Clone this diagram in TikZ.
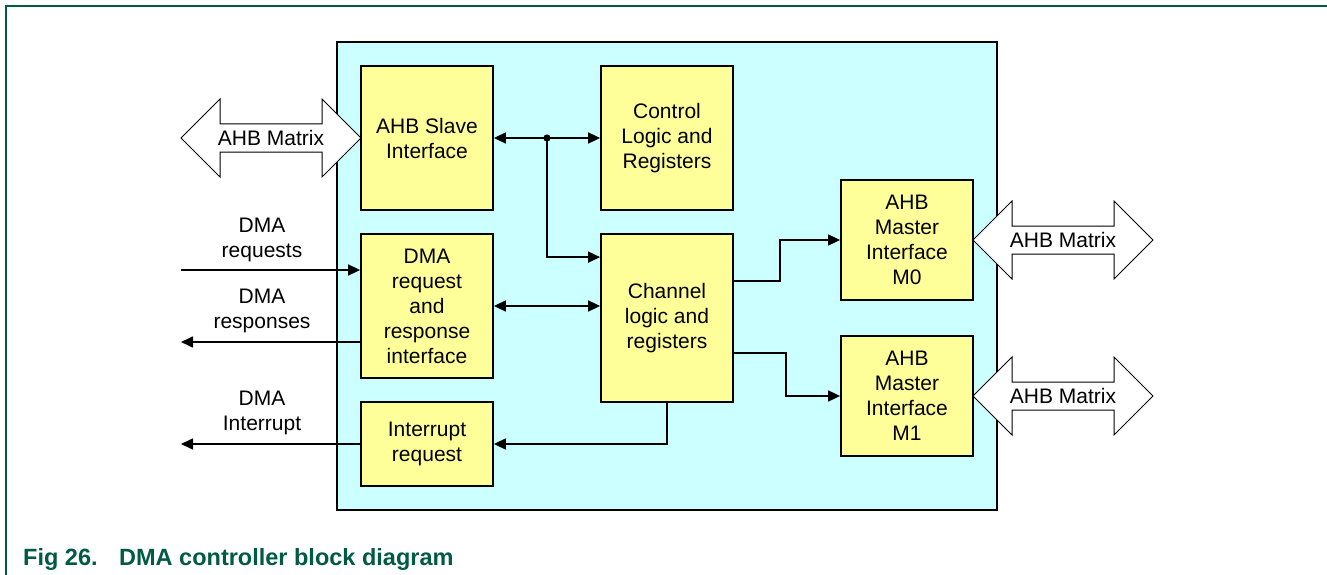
\documentclass[tikz,border=0pt]{standalone}
\usepackage{fontspec}
\setmainfont{Liberation Sans}
\usetikzlibrary{arrows.meta,calc}
\definecolor{nxpgreen}{RGB}{0,90,70}
\definecolor{cyanbg}{RGB}{204,255,255}
\definecolor{yelbox}{RGB}{255,255,153}
\newcommand{\bigdblarrow}[4]{% x1, x2, y, name
  \draw[line width=1pt,fill=white] (#1,#3) -- ++(39,-39) -- ++(0,25) -- (#2-39,#3-14) -- ++(0,-25) -- (#2,#3) -- ++(-39,39) -- ++(0,-25) -- (#1+39,#3+14) -- ++(0,25) -- cycle;
  \node[lbl] (#4) at ({(#1+#2)/2},#3) {AHB Matrix};
}
\begin{document}
\begin{tikzpicture}[x=1pt,y=-1pt,
  every node/.style={font=\fontsize{21}{25}\selectfont, inner sep=0pt},
  blk/.style={draw, line width=1.8pt, fill=yelbox, minimum width=132pt, align=center},
  lbl/.style={align=center},
  conn/.style={line width=1.7pt, -{Triangle[length=12pt,width=11pt]}},
  bconn/.style={line width=1.7pt, {Triangle[length=12pt,width=11pt]}-{Triangle[length=12pt,width=11pt]}},
  captxt/.style={anchor=base west, text=nxpgreen, font=\fontsize{23.5}{27}\selectfont\bfseries}]
\useasboundingbox (0,0) rectangle (1327,575);
% frame
\draw[nxpgreen, line width=2pt] (6,575) -- (6,6) -- (1327,6);
% outer box
\node[draw, line width=1.8pt, fill=cyanbg, minimum width=660pt, minimum height=468pt] (outer) at (667,276) {};
% blocks
\node[blk, minimum height=144pt] (slave) at (427,138) {AHB Slave\\Interface};
\node[blk, minimum height=144pt] (ctrl) at (667,138) {Control\\Logic and\\Registers};
\node[blk, minimum height=144pt] (dmareq) at (427,306) {DMA\\request\\and\\response\\interface};
\node[blk, minimum height=84pt] (irq) at (427,444) {Interrupt\\request};
\node[blk, minimum height=168pt] (chan) at (667,318) {Channel\\logic and\\registers};
\node[blk, minimum height=120pt] (m0) at (907,240) {AHB\\Master\\Interface\\M0};
\node[blk, minimum height=120pt] (m1) at (907,396) {AHB\\Master\\Interface\\M1};
% big arrows
\bigdblarrow{181}{361}{138}{ahbl}
\bigdblarrow{973}{1153}{240}{ahbm0}
\bigdblarrow{973}{1153}{396}{ahbm1}
% connectors
\coordinate (j) at (547,138);
\draw[bconn] (slave.east) -- (ctrl.west);
\fill (j) circle (3.6pt);
\draw[conn] (j) |- ($(chan.north west)+(0,24)$);
\draw[bconn] (dmareq.east) -- (chan.west |- dmareq.east);
\coordinate (reqin) at (181,270);
\coordinate (respout) at (181,342);
\coordinate (irqout) at (181,444);
\draw[conn] (reqin) -- (dmareq.west |- reqin);
\draw[conn] (dmareq.west |- respout) -- (respout);
\draw[conn] (chan.south) |- (irq.east);
\draw[conn] (irq.west) -- (irqout);
\draw[conn] ($(chan.north east)+(0,48)$) -| ($(m0.west)+(-60,0)$) -- (m0.west);
\draw[conn] ($(chan.north east)+(0,120)$) -| ($(m1.west)+(-54,0)$) -- (m1.west);
% external labels
\node[lbl] (lreq) at (262,240) {DMA\\requests};
\node[lbl] (lresp) at (262,311) {DMA\\responses};
\node[lbl] (lirq) at (262,413) {DMA\\Interrupt};
% caption
\node[captxt] (fig) at (23,565) {Fig 26.};
\node[captxt] (cap) at (119,565) {DMA controller block diagram};
\end{tikzpicture}
\end{document}
